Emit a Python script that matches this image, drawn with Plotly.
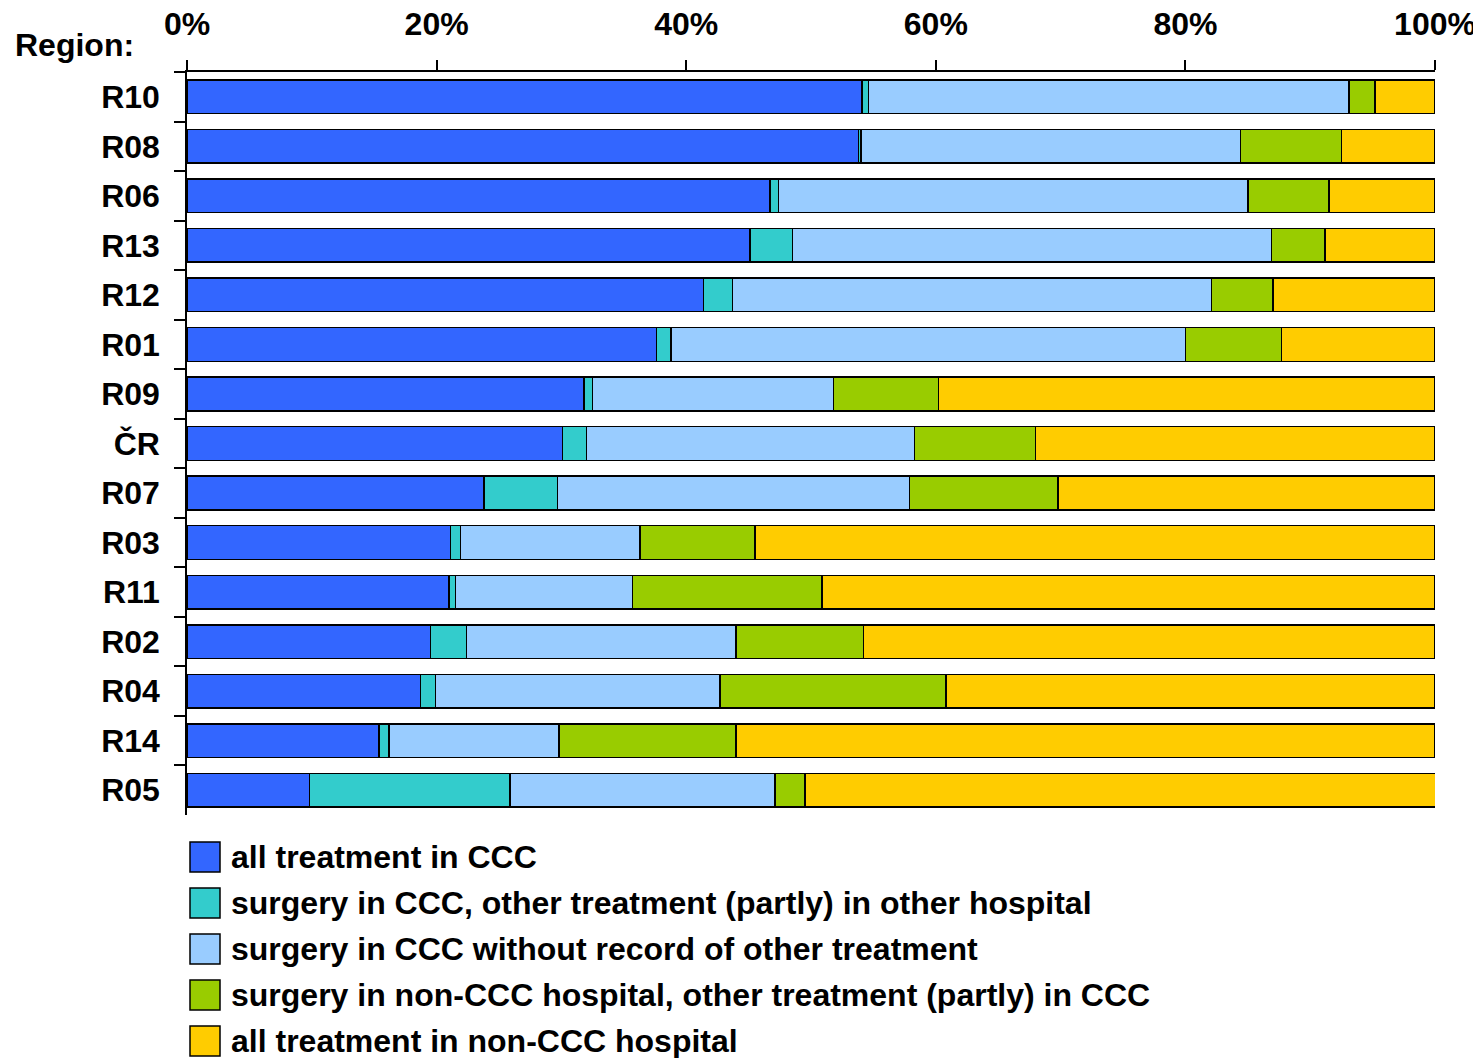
import plotly.graph_objects as go

regions = ["R10", "R08", "R06", "R13", "R12", "R01", "R09", "ČR",
           "R07", "R03", "R11", "R02", "R04", "R14", "R05"]

# shares in % per region (same order as regions)
all_ccc = [54.1, 53.8, 46.7, 45.1, 41.4, 37.6, 31.8, 30.1, 23.8, 21.1, 21.0, 19.5, 18.7, 15.4, 9.8]
surg_ccc_other = [0.5, 0.2, 0.7, 3.4, 2.3, 1.2, 0.7, 1.9, 5.9, 0.8, 0.5, 2.9, 1.2, 0.8, 16.1]
surg_ccc_only = [38.5, 30.4, 37.6, 38.4, 38.4, 41.2, 19.3, 26.3, 28.2, 14.4, 14.2, 21.6, 22.8, 13.6, 21.2]
surg_non_ccc = [2.1, 8.1, 6.5, 4.3, 4.9, 7.7, 8.4, 9.7, 11.9, 9.2, 15.2, 10.2, 18.1, 14.2, 2.4]
all_non_ccc = [4.8, 7.5, 8.5, 8.8, 13.0, 12.3, 39.8, 32.0, 30.2, 54.5, 49.1, 45.8, 39.2, 56.0, 50.6]

series = [
    ("all treatment in CCC", all_ccc, "#3366FF"),
    ("surgery in CCC, other treatment (partly) in other hospital", surg_ccc_other, "#33CCCC"),
    ("surgery in CCC without record of other treatment", surg_ccc_only, "#99CCFF"),
    ("surgery in non-CCC hospital, other treatment (partly) in CCC", surg_non_ccc, "#99CC00"),
    ("all treatment in non-CCC hospital", all_non_ccc, "#FFCC00"),
]

FONT = "Arial, 'Liberation Sans', sans-serif"
FS = 32
OFF = 8  # default body margin of the html page
W, H = 1481 - OFF, 1058 - OFF
L, R, T, B = 187 - OFF, 46, 72 - OFF, 1058 - 815

fig = go.Figure()
for name, vals, col in series:
    fig.add_trace(go.Bar(
        y=regions, x=vals, name=name, orientation="h",
        marker=dict(color=col, line=dict(color="black", width=1.5)),
        showlegend=False,
    ))


def px_to_paper(px, py):
    # page pixel -> paper coords
    px, py = px - OFF, py - OFF
    return (px - L) / (W - L - R), (H - B - py) / (H - T - B)


# legend drawn by hand so the swatches can be large squares
for i, (name, vals, col) in enumerate(series):
    cy = 857 + i * 46
    x0, y0 = px_to_paper(190, cy + 15)
    x1, y1 = px_to_paper(220, cy - 15)
    fig.add_shape(type="rect", xref="paper", yref="paper", x0=x0, y0=y0, x1=x1, y1=y1,
                  fillcolor=col, line=dict(color="black", width=1.5))
    tx, ty = px_to_paper(229, cy)
    fig.add_annotation(xref="paper", yref="paper", x=tx, y=ty, text=name,
                       showarrow=False, xanchor="left", yanchor="middle",
                       font=dict(family=FONT, size=FS, color="black", weight="bold"))

rx, ry = px_to_paper(13, 45)
fig.add_annotation(xref="paper", yref="paper", x=rx, y=ry, text="Region:",
                   showarrow=False, xanchor="left", yanchor="middle",
                   font=dict(family=FONT, size=FS, color="black", weight="bold"))

fig.update_layout(
    barmode="stack", bargap=0.32,
    width=W, height=H,
    margin=dict(l=L, r=R, t=T, b=B, pad=0, autoexpand=False),
    paper_bgcolor="white", plot_bgcolor="white",
    font=dict(family=FONT, size=FS, color="black", weight="bold"),
)
fig.update_xaxes(
    side="top", range=[0, 100], tickvals=[0, 20, 40, 60, 80, 100],
    ticktext=["0%", "20%", "40%", "60%", "80%", "100%"],
    showgrid=False, zeroline=False, showline=True, linecolor="black", linewidth=1.5,
    ticks="outside", ticklen=10, tickwidth=1.5, tickcolor="black",
    ticklabelstandoff=12, automargin=False,
)
fig.update_yaxes(
    categoryorder="array", categoryarray=regions, autorange="reversed",
    tickson="boundaries", ticks="outside", ticklen=11, tickwidth=1.5, tickcolor="black",
    showline=True, linecolor="black", linewidth=1.5, showgrid=False,
    ticklabelstandoff=19, automargin=False,
)

fig.write_html("out.html")
